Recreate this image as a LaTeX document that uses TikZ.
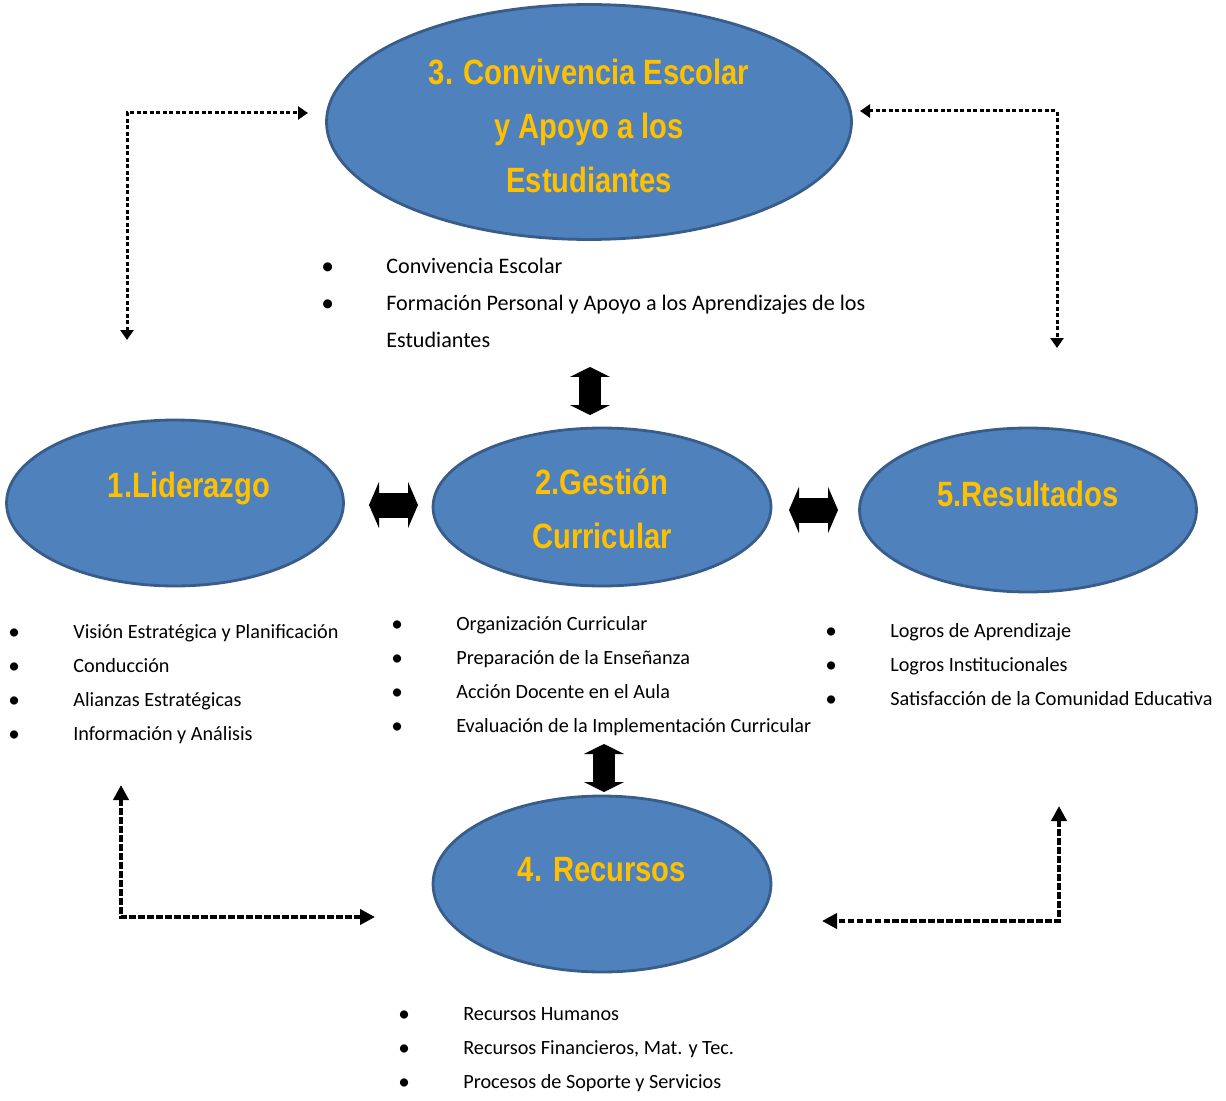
\documentclass[tikz,border=0pt]{standalone}
\usepackage{fontspec}
\setmainfont{Carlito}
\newfontfamily\titlefont{Liberation Sans}[FakeStretch=0.83]
\usetikzlibrary{arrows.meta,shapes.geometric}
\definecolor{ovalfill}{HTML}{4F81BD}
\definecolor{ovalline}{HTML}{385D8A}
\definecolor{ovalgold}{HTML}{FFC000}
\tikzset{
	oval/.style={ellipse,draw=ovalline,line width=1.6pt,fill=ovalfill,inner sep=0pt},
	ovaltext/.style={text=ovalgold,font=\titlefont\bfseries\fontsize{20}{30.6}\selectfont,align=center},
	items/.style={anchor=west,inner sep=0pt,align=left,font=\fontsize{11.5}{19.4}\selectfont},
	blockv/.style={line width=0.44cm,{Triangle[width=0.8cm,length=0.2cm]}-{Triangle[width=0.8cm,length=0.2cm]}},
	blockh/.style={line width=0.5cm,{Triangle[width=0.92cm,length=0.2cm]}-{Triangle[width=0.92cm,length=0.2cm]}},
	dotthin/.style={line width=0.06cm,dash pattern=on 0.08cm off 0.05cm,{Triangle[width=0.26cm,length=0.2cm]}-{Triangle[width=0.26cm,length=0.2cm]}},
	dotthick/.style={line width=0.08cm,dash pattern=on 0.13cm off 0.05cm,{Triangle[width=0.3cm,length=0.3cm]}-{Triangle[width=0.3cm,length=0.3cm]}}
}
\newcommand{\itm}[1]{\makebox[1.3cm][l]{\raisebox{-0.04em}{\scalebox{1.15}{\textbullet}}}#1}

\begin{document}
\begin{tikzpicture}[x=0.02cm,y=-0.02cm]
	\useasboundingbox (0,0) rectangle (1226,1101);
	% the five areas
	\node[oval,minimum width=10.5cm,minimum height=4.7cm] (e3) at (589,122) {};
	\node[oval,minimum width=6.74cm,minimum height=3.32cm] (e1) at (175,503) {};
	\node[oval,minimum width=6.76cm,minimum height=3.16cm] (e2) at (602,507) {};
	\node[oval,minimum width=6.74cm,minimum height=3.28cm] (e5) at (1028,510) {};
	\node[oval,minimum width=6.76cm,minimum height=3.52cm] (e4) at (602,884) {};
	\node[ovaltext] (t3) at ([yshift=-0.08cm]e3) {3. Convivencia Escolar\\y Apoyo a los\\Estudiantes};
	\node[ovaltext] (t1) at ([xshift=0.28cm,yshift=0.3cm]e1) {1.Liderazgo};
	\node[ovaltext] (t2) at ([yshift=-0.04cm]e2) {2.Gestión\\Curricular};
	\node[ovaltext] (t5) at ([yshift=0.32cm]e5) {5.Resultados};
	\node[ovaltext] (t4) at ([yshift=0.28cm]e4) {4. Recursos};
	% dimensions
	\node[items,font=\fontsize{12.6}{21}\selectfont] (l3) at (321,303) {\itm{Convivencia Escolar}\\\itm{Formación Personal y Apoyo a los Aprendizajes de los}\\\hspace*{1.3cm}Estudiantes};
	\node[items] (l1) at (8,684) {\itm{Visión Estratégica y Planificación}\\\itm{Conducción}\\\itm{Alianzas Estratégicas}\\\itm{Información y Análisis}};
	\node[items] (l2) at (391,676) {\itm{Organización Curricular}\\\itm{Preparación de la Enseñanza}\\\itm{Acción Docente en el Aula}\\\itm{Evaluación de la Implementación Curricular}};
	\node[items] (l5) at (825,665) {\itm{Logros de Aprendizaje}\\\itm{Logros Institucionales}\\\itm{Satisfacción de la Comunidad Educativa}};
	\node[items] (l4) at (398,1050) {\itm{Recursos Humanos}\\\itm{Recursos Financieros, Mat. y Tec.}\\\itm{Procesos de Soporte y Servicios}};
	% block arrows
	\coordinate (a3) at (590,367); \coordinate (a3b) at (590,415);
	\coordinate (a1) at (369,505); \coordinate (a1b) at (418,505);
	\coordinate (a5) at (789,510); \coordinate (a5b) at (838,510);
	\coordinate (a4) at (604,744); \coordinate (a4b) at (604,792);
	\draw[blockv] (a3) -- (a3b);
	\draw[blockh] (a1) -- (a1b);
	\draw[blockh] (a5) -- (a5b);
	\draw[blockv] (a4) -- (a4b);
	% dotted links
	\coordinate (d31) at (127,340); \coordinate (d13) at (308,113);
	\coordinate (d35) at (860,111); \coordinate (d53) at (1057,348);
	\coordinate (d14) at (121,785); \coordinate (d41) at (375,917);
	\coordinate (d54) at (1059,806); \coordinate (d45) at (822,921);
	\draw[dotthin] (d31) |- (d13);
	\draw[dotthin] (d35) -| (d53);
	\draw[dotthick] (d14) |- (d41);
	\draw[dotthick] (d54) |- (d45);
\end{tikzpicture}
\end{document}
